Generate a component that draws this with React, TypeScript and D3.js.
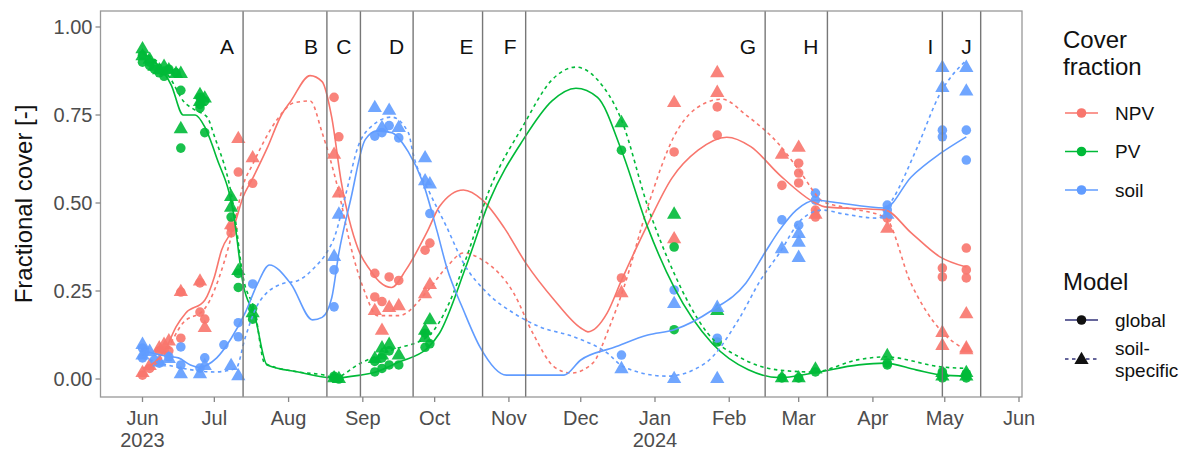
import * as d3 from "d3";

type Pt = [string, number];

const W = 1195;
const H = 452;
const PANEL = { left: 100.5, right: 1022, top: 11, bottom: 397 };
const FONT = "'Liberation Sans', Arial, Helvetica, sans-serif";

const fractions = ["NPV", "PV", "soil"];
const fractionColors = ["#F8766D", "#00BA38", "#619CFF"];
const models = ["global", "soil-specific"];

const phaseEnds = [
  "2023-07-13", "2023-08-17", "2023-08-31", "2023-09-22", "2023-10-21",
  "2023-11-08", "2024-02-16", "2024-03-13", "2024-04-30", "2024-05-16",
];
const phaseLabels = ["A", "B", "C", "D", "E", "F", "G", "H", "I", "J"];

const yTicks = [0, 0.25, 0.5, 0.75, 1];
const monthTicks = [
  "2023-06-01", "2023-07-01", "2023-08-01", "2023-09-01", "2023-10-01", "2023-11-01",
  "2023-12-01", "2024-01-01", "2024-02-01", "2024-03-01", "2024-04-01", "2024-05-01", "2024-06-01",
];

// fitted curves, global model (solid)
const npvGlobalLine: Pt[] = [
  ["2023-06-01", 0.03], ["2023-06-08", 0.06], ["2023-06-11", 0.09], ["2023-06-15", 0.148],
  ["2023-06-19", 0.187], ["2023-06-27", 0.224], ["2023-07-01", 0.29], ["2023-07-04", 0.366],
  ["2023-07-09", 0.43], ["2023-07-13", 0.517], ["2023-07-17", 0.57], ["2023-07-23", 0.655],
  ["2023-07-29", 0.75], ["2023-08-02", 0.79], ["2023-08-10", 0.862], ["2023-08-15", 0.845],
  ["2023-08-19", 0.744], ["2023-08-23", 0.56], ["2023-08-30", 0.37], ["2023-09-04", 0.31],
  ["2023-09-08", 0.276], ["2023-09-13", 0.26], ["2023-09-19", 0.31], ["2023-09-28", 0.42],
  ["2023-10-03", 0.49], ["2023-10-13", 0.537], ["2023-10-21", 0.508], ["2023-10-30", 0.43],
  ["2023-11-08", 0.33], ["2023-11-20", 0.224], ["2023-12-01", 0.145], ["2023-12-04", 0.134],
  ["2023-12-12", 0.187], ["2023-12-18", 0.28], ["2023-12-29", 0.44], ["2024-01-08", 0.57],
  ["2024-01-19", 0.65], ["2024-01-31", 0.687], ["2024-02-10", 0.66], ["2024-02-22", 0.58],
  ["2024-03-08", 0.5], ["2024-03-12", 0.489], ["2024-04-06", 0.48], ["2024-04-17", 0.415],
  ["2024-04-29", 0.347], ["2024-05-10", 0.318],
];
const pvGlobalLine: Pt[] = [
  ["2023-06-01", 0.926], ["2023-06-10", 0.87], ["2023-06-13", 0.835], ["2023-06-18", 0.75],
  ["2023-06-23", 0.75], ["2023-06-27", 0.716], ["2023-07-02", 0.628], ["2023-07-09", 0.47],
  ["2023-07-13", 0.27], ["2023-07-18", 0.176], ["2023-07-23", 0.04], ["2023-08-05", 0.02],
  ["2023-08-20", 0.003], ["2023-08-31", 0.011], ["2023-09-05", 0.017], ["2023-09-16", 0.048],
  ["2023-09-28", 0.088], ["2023-10-03", 0.13], ["2023-10-14", 0.318], ["2023-10-24", 0.508],
  ["2023-11-07", 0.68], ["2023-11-19", 0.79], ["2023-11-29", 0.826], ["2023-12-08", 0.8],
  ["2023-12-18", 0.65], ["2023-12-29", 0.43], ["2024-01-09", 0.26], ["2024-01-25", 0.1],
  ["2024-02-09", 0.026], ["2024-02-22", 0.004], ["2024-03-07", 0.017], ["2024-03-26", 0.04],
  ["2024-04-06", 0.045], ["2024-04-19", 0.026], ["2024-04-30", 0.011], ["2024-05-10", 0.008],
];
const soilGlobalLine: Pt[] = [
  ["2023-06-01", 0.08], ["2023-06-11", 0.065], ["2023-06-16", 0.06], ["2023-06-21", 0.04],
  ["2023-06-25", 0.033], ["2023-06-28", 0.04], ["2023-07-02", 0.06], ["2023-07-08", 0.115],
  ["2023-07-14", 0.19], ["2023-07-19", 0.27], ["2023-07-24", 0.324], ["2023-08-02", 0.27],
  ["2023-08-11", 0.168], ["2023-08-15", 0.175], ["2023-08-19", 0.23], ["2023-08-22", 0.358],
  ["2023-08-27", 0.512], ["2023-09-02", 0.68], ["2023-09-07", 0.705], ["2023-09-13", 0.7],
  ["2023-09-20", 0.645], ["2023-09-26", 0.56], ["2023-10-02", 0.42], ["2023-10-06", 0.318],
  ["2023-10-13", 0.196], ["2023-10-20", 0.09], ["2023-10-31", 0.011], ["2023-11-24", 0.011],
  ["2023-12-01", 0.054], ["2023-12-15", 0.09], ["2023-12-29", 0.125], ["2024-01-09", 0.14],
  ["2024-01-25", 0.196], ["2024-02-08", 0.273], ["2024-02-16", 0.36], ["2024-02-22", 0.423],
  ["2024-02-29", 0.48], ["2024-03-08", 0.508], ["2024-03-15", 0.503], ["2024-04-06", 0.486],
  ["2024-04-17", 0.574], ["2024-04-29", 0.64], ["2024-05-10", 0.688],
];

// fitted curves, soil-specific model (dashed)
const npvSoilLine: Pt[] = [
  ["2023-06-01", 0.02], ["2023-06-09", 0.06], ["2023-06-18", 0.16], ["2023-06-27", 0.2],
  ["2023-07-05", 0.33], ["2023-07-09", 0.43], ["2023-07-13", 0.55], ["2023-07-17", 0.61],
  ["2023-07-27", 0.735], ["2023-08-03", 0.784], ["2023-08-10", 0.79], ["2023-08-15", 0.7],
  ["2023-08-22", 0.53], ["2023-08-27", 0.375], ["2023-09-02", 0.244], ["2023-09-07", 0.18],
  ["2023-09-16", 0.18], ["2023-09-28", 0.25], ["2023-10-06", 0.318], ["2023-10-13", 0.358],
  ["2023-10-21", 0.338], ["2023-11-03", 0.244], ["2023-11-11", 0.13], ["2023-11-20", 0.034],
  ["2023-11-27", 0.017], ["2023-12-06", 0.045], ["2023-12-13", 0.148], ["2023-12-19", 0.26],
  ["2023-12-29", 0.49], ["2024-01-09", 0.69], ["2024-01-22", 0.784], ["2024-01-29", 0.795],
  ["2024-02-08", 0.75], ["2024-02-22", 0.665], ["2024-03-02", 0.585], ["2024-03-11", 0.505],
  ["2024-03-19", 0.489], ["2024-04-06", 0.46], ["2024-04-17", 0.27], ["2024-04-29", 0.14],
  ["2024-05-10", 0.082],
];
const pvSoilLine: Pt[] = [
  ["2023-06-01", 0.93], ["2023-06-10", 0.88], ["2023-06-13", 0.85], ["2023-06-18", 0.79],
  ["2023-06-23", 0.764], ["2023-06-28", 0.744], ["2023-07-01", 0.69], ["2023-07-09", 0.49],
  ["2023-07-13", 0.29], ["2023-07-18", 0.19], ["2023-07-22", 0.045], ["2023-08-05", 0.02],
  ["2023-08-16", 0.011], ["2023-08-20", 0.004], ["2023-08-31", 0.045], ["2023-09-13", 0.082],
  ["2023-09-28", 0.12], ["2023-10-07", 0.215], ["2023-10-14", 0.34], ["2023-10-24", 0.54],
  ["2023-11-07", 0.72], ["2023-11-19", 0.85], ["2023-11-29", 0.886], ["2023-12-08", 0.85],
  ["2023-12-18", 0.736], ["2023-12-29", 0.49], ["2024-01-09", 0.3], ["2024-01-23", 0.13],
  ["2024-02-05", 0.063], ["2024-02-21", 0.026], ["2024-03-07", 0.02], ["2024-03-26", 0.055],
  ["2024-04-06", 0.063], ["2024-04-30", 0.034], ["2024-05-10", 0.03],
];
const soilSoilLine: Pt[] = [
  ["2023-06-01", 0.06], ["2023-06-18", 0.03], ["2023-07-01", 0.02], ["2023-07-10", 0.03],
  ["2023-07-14", 0.12], ["2023-07-19", 0.21], ["2023-07-29", 0.27], ["2023-08-05", 0.28],
  ["2023-08-12", 0.318], ["2023-08-17", 0.36], ["2023-08-20", 0.4], ["2023-08-25", 0.528],
  ["2023-08-30", 0.66], ["2023-09-05", 0.72], ["2023-09-13", 0.744], ["2023-09-20", 0.7],
  ["2023-09-22", 0.64], ["2023-09-29", 0.528], ["2023-10-06", 0.432], ["2023-10-13", 0.33],
  ["2023-10-23", 0.244], ["2023-11-03", 0.187], ["2023-11-14", 0.148], ["2023-11-28", 0.12],
  ["2023-12-12", 0.074], ["2023-12-19", 0.034], ["2024-01-06", 0.008], ["2024-01-22", 0.045],
  ["2024-02-05", 0.17], ["2024-02-14", 0.28], ["2024-02-22", 0.358], ["2024-03-02", 0.452],
  ["2024-03-11", 0.48], ["2024-03-19", 0.47], ["2024-04-03", 0.457], ["2024-04-09", 0.508],
  ["2024-04-19", 0.65], ["2024-04-29", 0.81], ["2024-05-10", 0.906],
];

// observations, global model (circles)
const npvGlobalPts: Pt[] = [
  ["2023-06-01", 0.011], ["2023-06-04", 0.03], ["2023-06-08", 0.08], ["2023-06-10", 0.082],
  ["2023-06-12", 0.08], ["2023-06-17", 0.116], ["2023-06-17", 0.247], ["2023-06-25", 0.273],
  ["2023-06-25", 0.19], ["2023-06-27", 0.17], ["2023-07-08", 0.43], ["2023-07-08", 0.415],
  ["2023-07-11", 0.588], ["2023-07-17", 0.556], ["2023-08-20", 0.8], ["2023-08-22", 0.688],
  ["2023-09-06", 0.3], ["2023-09-06", 0.233], ["2023-09-09", 0.22], ["2023-09-12", 0.29],
  ["2023-09-16", 0.28], ["2023-09-27", 0.366], ["2023-09-29", 0.386], ["2023-12-18", 0.287],
  ["2024-01-09", 0.645], ["2024-01-27", 0.773], ["2024-01-27", 0.693], ["2024-02-23", 0.55],
  ["2024-03-01", 0.613], ["2024-03-01", 0.585], ["2024-03-01", 0.557], ["2024-03-08", 0.46],
  ["2024-03-08", 0.48], ["2024-04-07", 0.457], ["2024-04-30", 0.315], ["2024-04-30", 0.29],
  ["2024-05-10", 0.372], ["2024-05-10", 0.31], ["2024-05-10", 0.287],
];
const pvGlobalPts: Pt[] = [
  ["2023-06-01", 0.92], ["2023-06-01", 0.9], ["2023-06-04", 0.9], ["2023-06-04", 0.89],
  ["2023-06-06", 0.88], ["2023-06-08", 0.87], ["2023-06-10", 0.875], ["2023-06-10", 0.86],
  ["2023-06-12", 0.88], ["2023-06-15", 0.87], ["2023-06-17", 0.82], ["2023-06-17", 0.656],
  ["2023-06-25", 0.8], ["2023-06-25", 0.78], ["2023-06-25", 0.77], ["2023-06-27", 0.79],
  ["2023-06-27", 0.7], ["2023-07-08", 0.46], ["2023-07-11", 0.26], ["2023-07-11", 0.3],
  ["2023-07-17", 0.17], ["2023-07-17", 0.2], ["2023-08-20", 0.003], ["2023-08-20", 0.008],
  ["2023-08-22", 0.0], ["2023-09-06", 0.02], ["2023-09-06", 0.05], ["2023-09-09", 0.06],
  ["2023-09-09", 0.03], ["2023-09-12", 0.04], ["2023-09-12", 0.08], ["2023-09-16", 0.04],
  ["2023-09-27", 0.09], ["2023-09-27", 0.13], ["2023-09-29", 0.1], ["2023-12-18", 0.65],
  ["2024-01-09", 0.375], ["2024-01-09", 0.14], ["2024-01-27", 0.105], ["2024-02-23", 0.003],
  ["2024-03-01", 0.003], ["2024-03-08", 0.02], ["2024-04-07", 0.045], ["2024-04-07", 0.04],
  ["2024-04-30", 0.003], ["2024-04-30", 0.02], ["2024-04-30", 0.01], ["2024-05-10", 0.003],
  ["2024-05-10", 0.015], ["2024-05-10", 0.01],
];
const soilGlobalPts: Pt[] = [
  ["2023-06-01", 0.088], ["2023-06-01", 0.06], ["2023-06-02", 0.077], ["2023-06-06", 0.054],
  ["2023-06-08", 0.045], ["2023-06-12", 0.063], ["2023-06-17", 0.091], ["2023-06-17", 0.04],
  ["2023-06-25", 0.031], ["2023-06-27", 0.06], ["2023-07-05", 0.097], ["2023-07-11", 0.12],
  ["2023-07-11", 0.16], ["2023-07-17", 0.27], ["2023-08-20", 0.205], ["2023-08-20", 0.31],
  ["2023-09-06", 0.69], ["2023-09-09", 0.7], ["2023-09-12", 0.72], ["2023-09-16", 0.685],
  ["2023-09-29", 0.47], ["2023-12-18", 0.068], ["2024-01-09", 0.253], ["2024-01-27", 0.116],
  ["2024-02-23", 0.452], ["2024-03-01", 0.437], ["2024-03-08", 0.528], ["2024-03-08", 0.508],
  ["2024-04-07", 0.494], ["2024-04-07", 0.48], ["2024-04-30", 0.688], ["2024-04-30", 0.707],
  ["2024-05-10", 0.707], ["2024-05-10", 0.622],
];

// observations, soil-specific model (triangles)
const npvSoilPts: Pt[] = [
  ["2023-06-01", 0.02], ["2023-06-04", 0.04], ["2023-06-08", 0.09], ["2023-06-10", 0.1],
  ["2023-06-12", 0.11], ["2023-06-17", 0.25], ["2023-06-25", 0.28], ["2023-06-27", 0.148],
  ["2023-07-08", 0.44], ["2023-07-11", 0.685], ["2023-07-17", 0.63], ["2023-08-20", 0.64],
  ["2023-08-22", 0.53], ["2023-09-06", 0.196], ["2023-09-09", 0.14], ["2023-09-12", 0.205],
  ["2023-09-16", 0.21], ["2023-09-27", 0.244], ["2023-09-29", 0.27], ["2023-12-18", 0.247],
  ["2024-01-09", 0.787], ["2024-01-09", 0.4], ["2024-01-27", 0.872], ["2024-01-27", 0.816],
  ["2024-02-23", 0.64], ["2024-03-01", 0.66], ["2024-03-08", 0.47], ["2024-04-07", 0.43],
  ["2024-04-30", 0.134], ["2024-04-30", 0.097], ["2024-05-10", 0.187], ["2024-05-10", 0.09],
  ["2024-05-10", 0.085],
];
const pvSoilPts: Pt[] = [
  ["2023-06-01", 0.94], ["2023-06-01", 0.92], ["2023-06-04", 0.91], ["2023-06-06", 0.89],
  ["2023-06-08", 0.88], ["2023-06-10", 0.89], ["2023-06-12", 0.88], ["2023-06-15", 0.87],
  ["2023-06-17", 0.87], ["2023-06-17", 0.713], ["2023-06-25", 0.81], ["2023-06-25", 0.79],
  ["2023-06-27", 0.8], ["2023-07-08", 0.49], ["2023-07-08", 0.52], ["2023-07-11", 0.31],
  ["2023-07-17", 0.19], ["2023-08-20", 0.005], ["2023-08-22", 0.003], ["2023-09-06", 0.06],
  ["2023-09-09", 0.09], ["2023-09-09", 0.07], ["2023-09-12", 0.1], ["2023-09-16", 0.07],
  ["2023-09-27", 0.14], ["2023-09-27", 0.12], ["2023-09-29", 0.17], ["2023-12-18", 0.73],
  ["2024-01-09", 0.47], ["2024-01-27", 0.196], ["2024-02-23", 0.005], ["2024-03-01", 0.005],
  ["2024-03-08", 0.03], ["2024-04-07", 0.068], ["2024-04-30", 0.02], ["2024-04-30", 0.01],
  ["2024-05-10", 0.02], ["2024-05-10", 0.01],
];
const soilSoilPts: Pt[] = [
  ["2023-06-01", 0.1], ["2023-06-01", 0.07], ["2023-06-04", 0.08], ["2023-06-08", 0.05],
  ["2023-06-12", 0.06], ["2023-06-17", 0.017], ["2023-06-25", 0.017], ["2023-06-27", 0.04],
  ["2023-07-08", 0.04], ["2023-07-11", 0.011], ["2023-08-20", 0.35], ["2023-08-22", 0.47],
  ["2023-09-06", 0.773], ["2023-09-09", 0.716], ["2023-09-12", 0.765], ["2023-09-16", 0.716],
  ["2023-09-27", 0.63], ["2023-09-27", 0.565], ["2023-09-29", 0.556], ["2023-12-18", 0.031],
  ["2024-01-09", 0.216], ["2024-01-09", 0.003], ["2024-01-27", 0.205], ["2024-01-27", 0.003],
  ["2024-02-23", 0.372], ["2024-03-01", 0.415], ["2024-03-01", 0.39], ["2024-03-01", 0.347],
  ["2024-04-07", 0.47], ["2024-04-30", 0.887], ["2024-04-30", 0.83], ["2024-05-10", 0.887],
  ["2024-05-10", 0.82],
];

const globalLines = [npvGlobalLine, pvGlobalLine, soilGlobalLine];
const soilLines = [npvSoilLine, pvSoilLine, soilSoilLine];
const globalPts = [npvGlobalPts, pvGlobalPts, soilGlobalPts];
const soilPts = [npvSoilPts, pvSoilPts, soilSoilPts];

const parse = d3.timeParse("%Y-%m-%d");
const day = (s: string) => parse(s) as Date;

const x = d3.scaleTime()
  .domain([day("2023-06-01"), day("2024-06-01")])
  .range([142.5, 1019]);
const y = d3.scaleLinear().domain([0, 1]).range([379, 27]);

const line = d3.line<Pt>()
  .x(d => x(day(d[0])))
  .y(d => y(d[1]))
  .curve(d3.curveMonotoneX);

const circle = d3.symbol(d3.symbolCircle, 72)();
const triangle = d3.symbol(d3.symbolTriangle, 88)();

const fmtMonth = d3.timeFormat("%b");

export default function App() {
  const legendX = 1063;
  return (
    <svg width={W} height={H} style={{ position: "absolute", left: 0, top: 0, background: "#fff" }}
      fontFamily={FONT}>
      <rect x={0} y={0} width={W} height={H} fill="#fff" />

      {/* observations */}
      {fractions.map((f, i) => (
        <g key={`pts-${f}`} fill={fractionColors[i]} fillOpacity={0.9}>
          {globalPts[i].map((d, j) => (
            <path key={`c${j}`} d={circle!}
              transform={`translate(${x(day(d[0]))},${y(d[1])})`} />
          ))}
          {soilPts[i].map((d, j) => (
            <path key={`t${j}`} d={triangle!}
              transform={`translate(${x(day(d[0]))},${y(d[1]) + 1})`} />
          ))}
        </g>
      ))}

      {/* fitted curves */}
      {fractions.map((f, i) => (
        <g key={`ln-${f}`} fill="none" stroke={fractionColors[i]} strokeWidth={1.6}>
          <path d={line(soilLines[i]) ?? ""} strokeDasharray="3.5,3.5" />
          <path d={line(globalLines[i]) ?? ""} />
        </g>
      ))}

      {/* phase boundaries */}
      {phaseEnds.map((s, i) => {
        const px = x(day(s));
        return (
          <g key={s}>
            <line x1={px} x2={px} y1={PANEL.top} y2={PANEL.bottom} stroke="#777" strokeWidth={1.4} />
            <text x={px - 9} y={54} textAnchor="end" fontSize={21} fill="#111">{phaseLabels[i]}</text>
          </g>
        );
      })}

      {/* panel border */}
      <rect x={PANEL.left} y={PANEL.top} width={PANEL.right - PANEL.left}
        height={PANEL.bottom - PANEL.top} fill="none" stroke="#999" strokeWidth={1.3} />

      {/* y axis */}
      {yTicks.map(t => (
        <g key={t}>
          <line x1={PANEL.left - 5} x2={PANEL.left} y1={y(t)} y2={y(t)} stroke="#888" strokeWidth={1.3} />
          <text x={PANEL.left - 8} y={y(t)} dy="0.36em" textAnchor="end" fontSize={20} fill="#4d4d4d">
            {d3.format(".2f")(t)}
          </text>
        </g>
      ))}
      <text transform={`translate(32,${(PANEL.top + PANEL.bottom) / 2}) rotate(-90)`}
        textAnchor="middle" fontSize={24} fill="#111">Fractional cover [-]</text>

      {/* x axis */}
      {monthTicks.map(s => {
        const d = day(s);
        const px = x(d);
        const withYear = d.getMonth() === 5 && d.getFullYear() === 2023 || d.getMonth() === 0;
        return (
          <g key={s}>
            <line x1={px} x2={px} y1={PANEL.bottom} y2={PANEL.bottom + 5} stroke="#888" strokeWidth={1.3} />
            <text x={px} y={425} textAnchor="middle" fontSize={20} fill="#4d4d4d">{fmtMonth(d)}</text>
            {withYear && (
              <text x={px} y={447} textAnchor="middle" fontSize={20} fill="#4d4d4d">{d.getFullYear()}</text>
            )}
          </g>
        );
      })}

      {/* legend: cover fraction */}
      <text x={legendX} y={48} fontSize={24} fill="#111">Cover</text>
      <text x={legendX} y={75} fontSize={24} fill="#111">fraction</text>
      {fractions.map((f, i) => {
        const cy = 113 + i * 38.5;
        return (
          <g key={`lg-${f}`}>
            <line x1={legendX + 2} x2={legendX + 35} y1={cy} y2={cy} stroke={fractionColors[i]} strokeWidth={1.6} />
            <path d={circle!} transform={`translate(${legendX + 18.5},${cy})`} fill={fractionColors[i]} />
            <text x={legendX + 52} y={cy} dy="0.36em" fontSize={19} fill="#111">{f}</text>
          </g>
        );
      })}

      {/* legend: model */}
      <text x={legendX} y={290} fontSize={24} fill="#111">Model</text>
      <g>
        <line x1={legendX + 2} x2={legendX + 35} y1={320} y2={320} stroke="#33337a" strokeWidth={1.6} />
        <path d={circle!} transform={`translate(${legendX + 18.5},320)`} fill="#111" />
        <text x={legendX + 52} y={320} dy="0.36em" fontSize={19} fill="#111">{models[0]}</text>
      </g>
      <g>
        <line x1={legendX + 2} x2={legendX + 35} y1={359} y2={359} stroke="#33337a" strokeWidth={1.6}
          strokeDasharray="3.5,3.5" />
        <path d={triangle!} transform={`translate(${legendX + 18.5},360)`} fill="#111" />
        <text x={legendX + 52} y={348} dy="0.36em" fontSize={19} fill="#111">soil-</text>
        <text x={legendX + 52} y={370} dy="0.36em" fontSize={19} fill="#111">specific</text>
      </g>
    </svg>
  );
}
